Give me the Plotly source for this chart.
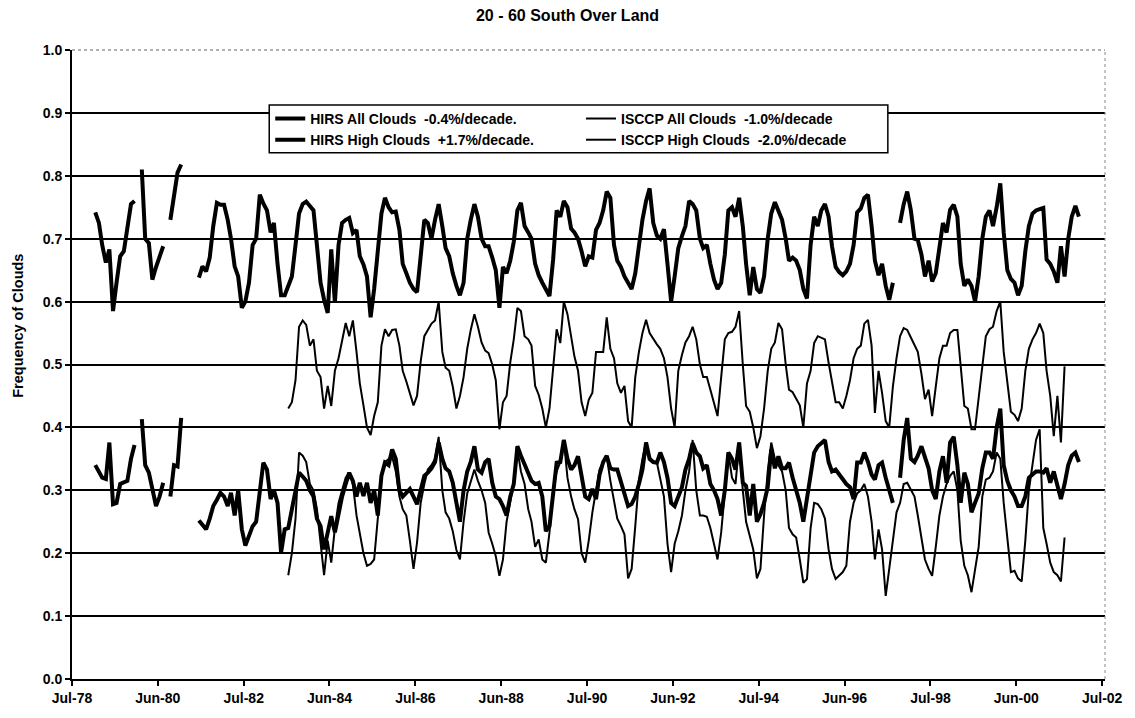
import pandas as pd
import plotly.graph_objects as go

# ---------------- DATA (monthly) ----------------
HIRS_START = "1979-01"
ISCCP_START = "1983-07"

hirs_all = [
    # 1979
    0.742, 0.725, 0.69, 0.662, 0.683, 0.585, 0.63, 0.672, 0.68, 0.72, 0.755, 0.76,
    # 1980
    None, 0.81, 0.70, 0.693, 0.635, 0.655, 0.67, 0.688, None, 0.73, 0.765, 0.805,
    # 1981
    0.818, None, None, None, None, 0.638, 0.656, 0.648, 0.67, 0.72, 0.757, 0.754,
    # 1982
    0.754, 0.73, 0.70, 0.656, 0.64, 0.59, 0.60, 0.63, 0.69, 0.70, 0.77, 0.756,
    # 1983
    0.745, 0.71, 0.725, 0.66, 0.61, 0.61, 0.625, 0.64, 0.69, 0.74, 0.755, 0.759,
    # 1984
    0.752, 0.745, 0.69, 0.63, 0.603, 0.582, 0.683, 0.598, 0.69, 0.725, 0.73, 0.733,
    # 1985
    0.709, 0.714, 0.672, 0.659, 0.64, 0.575, 0.62, 0.68, 0.74, 0.765, 0.75, 0.742,
    # 1986
    0.743, 0.714, 0.66, 0.645, 0.63, 0.62, 0.615, 0.672, 0.73, 0.725, 0.70, 0.73,
    # 1987
    0.755, 0.72, 0.685, 0.672, 0.645, 0.625, 0.61, 0.63, 0.70, 0.73, 0.755, 0.735,
    # 1988
    0.70, 0.688, 0.688, 0.67, 0.65, 0.59, 0.655, 0.645, 0.665, 0.695, 0.745, 0.757,
    # 1989
    0.72, 0.71, 0.70, 0.66, 0.642, 0.63, 0.62, 0.609, 0.667, 0.745, 0.735, 0.76,
    # 1990
    0.75, 0.716, 0.71, 0.70, 0.68, 0.656, 0.672, 0.67, 0.714, 0.725, 0.745, 0.775,
    # 1991
    0.765, 0.69, 0.665, 0.655, 0.64, 0.63, 0.62, 0.645, 0.695, 0.73, 0.76, 0.78,
    # 1992
    0.725, 0.705, 0.70, 0.715, 0.66, 0.60, 0.64, 0.685, 0.704, 0.72, 0.76, 0.755,
    # 1993
    0.745, 0.70, 0.685, 0.69, 0.66, 0.635, 0.62, 0.63, 0.675, 0.745, 0.75, 0.735,
    # 1994
    0.765, 0.72, 0.66, 0.61, 0.655, 0.62, 0.614, 0.64, 0.70, 0.74, 0.758, 0.742,
    # 1995
    0.73, 0.70, 0.665, 0.67, 0.665, 0.65, 0.62, 0.605, 0.69, 0.735, 0.72, 0.745,
    # 1996
    0.755, 0.735, 0.688, 0.655, 0.647, 0.642, 0.648, 0.66, 0.69, 0.742, 0.748, 0.765,
    # 1997
    0.77, 0.72, 0.665, 0.642, 0.66, 0.625, 0.603, 0.63, None, 0.725, 0.755, 0.775,
    # 1998
    0.745, 0.70, 0.698, 0.675, 0.64, 0.665, 0.632, 0.645, 0.69, 0.725, 0.71, 0.746,
    # 1999
    0.754, 0.735, 0.66, 0.625, 0.635, 0.625, 0.60, 0.64, 0.70, 0.735, 0.745, 0.72,
    # 2000
    0.75, 0.788, 0.71, 0.65, 0.636, 0.63, 0.61, 0.625, 0.68, 0.72, 0.74, 0.745,
    # 2001
    0.747, 0.749, 0.667, 0.66, 0.648, 0.63, 0.688, 0.64, 0.70, 0.735, 0.752, 0.735,
]

hirs_high = [
    # 1979
    0.34, 0.33, 0.32, 0.318, 0.376, 0.278, 0.28, 0.31, 0.312, 0.315, 0.35, 0.372,
    # 1980
    None, 0.413, 0.34, 0.328, 0.30, 0.275, 0.29, 0.312, None, 0.29, 0.34, 0.338,
    # 1981
    0.415, None, None, None, None, 0.252, 0.245, 0.238, 0.255, 0.275, 0.285, 0.296,
    # 1982
    0.29, 0.275, 0.296, 0.26, 0.30, 0.238, 0.212, 0.228, 0.243, 0.25, 0.296, 0.344,
    # 1983
    0.333, 0.286, 0.30, 0.28, 0.201, 0.238, 0.24, 0.27, 0.30, 0.328, 0.322, 0.315,
    # 1984
    0.30, 0.29, 0.255, 0.243, 0.206, 0.233, 0.259, 0.233, 0.265, 0.29, 0.31, 0.328,
    # 1985
    0.315, 0.29, 0.312, 0.291, 0.312, 0.28, 0.30, 0.26, 0.323, 0.344, 0.34, 0.365,
    # 1986
    0.35, 0.30, 0.29, 0.296, 0.302, 0.29, 0.278, 0.30, 0.323, 0.328, 0.335, 0.345,
    # 1987
    0.376, 0.35, 0.335, 0.33, 0.312, 0.28, 0.25, 0.30, 0.33, 0.345, 0.37, 0.333,
    # 1988
    0.328, 0.345, 0.35, 0.312, 0.29, 0.286, 0.275, 0.26, 0.29, 0.31, 0.37, 0.355,
    # 1989
    0.34, 0.325, 0.315, 0.31, 0.312, 0.29, 0.235, 0.243, 0.29, 0.344, 0.345, 0.38,
    # 1990
    0.35, 0.333, 0.34, 0.354, 0.323, 0.29, 0.286, 0.302, 0.286, 0.325, 0.345, 0.355,
    # 1991
    0.335, 0.333, 0.333, 0.312, 0.29, 0.275, 0.278, 0.29, 0.31, 0.333, 0.376, 0.35,
    # 1992
    0.345, 0.344, 0.36, 0.345, 0.32, 0.28, 0.275, 0.29, 0.305, 0.333, 0.35, 0.375,
    # 1993
    0.36, 0.354, 0.335, 0.34, 0.31, 0.30, 0.286, 0.26, 0.30, 0.36, 0.35, 0.333,
    # 1994
    0.376, 0.312, 0.307, 0.26, 0.31, 0.25, 0.262, 0.28, 0.305, 0.365, 0.335, 0.354,
    # 1995
    0.335, 0.335, 0.344, 0.32, 0.30, 0.28, 0.25, 0.29, 0.33, 0.36, 0.37, 0.375,
    # 1996
    0.38, 0.345, 0.33, 0.333, 0.325, 0.318, 0.31, 0.305, 0.286, 0.344, 0.344, 0.36,
    # 1997
    0.345, 0.325, 0.317, 0.34, 0.344, 0.32, 0.30, 0.28, None, 0.32, 0.38, 0.415,
    # 1998
    0.35, 0.345, 0.355, 0.37, 0.35, 0.335, 0.30, 0.286, 0.33, 0.354, 0.312, 0.376,
    # 1999
    0.385, 0.34, 0.28, 0.328, 0.31, 0.265, 0.28, 0.295, 0.335, 0.36, 0.36, 0.35,
    # 2000
    0.40, 0.43, 0.34, 0.315, 0.30, 0.29, 0.275, 0.275, 0.29, 0.32, 0.325, 0.33,
    # 2001
    0.33, 0.328, 0.335, 0.312, 0.33, 0.305, 0.286, 0.31, 0.34, 0.355, 0.36, 0.345,
]

isccp_all = [
    # 1983 (Jul-Dec)
    0.43, 0.44, 0.475, 0.56, 0.57, 0.563,
    # 1984
    0.53, 0.54, 0.49, 0.48, 0.43, 0.466, 0.434, 0.49, 0.51, 0.535, 0.566, 0.545,
    # 1985
    0.57, 0.52, 0.47, 0.435, 0.40, 0.388, 0.418, 0.44, 0.53, 0.556, 0.545, 0.555,
    # 1986
    0.556, 0.53, 0.49, 0.473, 0.455, 0.435, 0.45, 0.505, 0.545, 0.555, 0.565, 0.57,
    # 1987
    0.60, 0.52, 0.495, 0.49, 0.465, 0.43, 0.45, 0.48, 0.525, 0.555, 0.58, 0.56,
    # 1988
    0.535, 0.522, 0.518, 0.50, 0.475, 0.397, 0.44, 0.45, 0.503, 0.54, 0.59, 0.585,
    # 1989
    0.545, 0.54, 0.53, 0.466, 0.452, 0.43, 0.40, 0.43, 0.50, 0.556, 0.534, 0.60,
    # 1990
    0.58, 0.545, 0.513, 0.49, 0.44, 0.418, 0.444, 0.455, 0.52, 0.52, 0.52, 0.575,
    # 1991
    0.525, 0.51, 0.47, 0.455, 0.466, 0.41, 0.40, 0.48, 0.52, 0.55, 0.571, 0.55,
    # 1992
    0.54, 0.532, 0.525, 0.51, 0.48, 0.43, 0.40, 0.49, 0.515, 0.535, 0.545, 0.56,
    # 1993
    0.54, 0.50, 0.48, 0.48, 0.46, 0.44, 0.418, 0.48, 0.54, 0.55, 0.552, 0.56,
    # 1994
    0.585, 0.50, 0.434, 0.425, 0.40, 0.367, 0.386, 0.43, 0.49, 0.525, 0.535, 0.566,
    # 1995
    0.556, 0.50, 0.46, 0.456, 0.445, 0.435, 0.40, 0.47, 0.49, 0.534, 0.545, 0.543,
    # 1996
    0.54, 0.503, 0.471, 0.44, 0.44, 0.43, 0.45, 0.475, 0.51, 0.525, 0.53, 0.565,
    # 1997
    0.571, 0.53, 0.423, 0.49, 0.455, 0.41, 0.40, 0.465, 0.51, 0.545, 0.558, 0.555,
    # 1998
    0.543, 0.532, 0.52, 0.485, 0.445, 0.46, 0.418, 0.465, 0.51, 0.53, 0.53, 0.55,
    # 1999
    0.555, 0.555, 0.50, 0.434, 0.43, 0.397, 0.397, 0.445, 0.50, 0.545, 0.556, 0.56,
    # 2000
    0.585, 0.60, 0.52, 0.47, 0.425, 0.42, 0.41, 0.43, 0.49, 0.525, 0.54, 0.55,
    # 2001 (Jan-Aug)
    0.565, 0.55, 0.49, 0.45, 0.386, 0.45, 0.376, 0.497,
]

isccp_high = [
    # 1983 (Jul-Dec)
    0.165, 0.20, 0.255, 0.36, 0.355, 0.345,
    # 1984
    0.31, 0.30, 0.27, 0.22, 0.165, 0.22, 0.185, 0.24, 0.28, 0.30, 0.32, 0.328,
    # 1985
    0.31, 0.26, 0.233, 0.20, 0.18, 0.183, 0.19, 0.26, 0.32, 0.345, 0.35, 0.354,
    # 1986
    0.33, 0.29, 0.27, 0.26, 0.22, 0.175, 0.217, 0.28, 0.31, 0.333, 0.34, 0.35,
    # 1987
    0.385, 0.30, 0.265, 0.255, 0.235, 0.205, 0.19, 0.25, 0.295, 0.315, 0.333, 0.315,
    # 1988
    0.30, 0.28, 0.233, 0.215, 0.195, 0.164, 0.19, 0.25, 0.28, 0.312, 0.365, 0.33,
    # 1989
    0.31, 0.27, 0.25, 0.21, 0.222, 0.19, 0.185, 0.233, 0.30, 0.33, 0.345, 0.38,
    # 1990
    0.32, 0.29, 0.27, 0.254, 0.20, 0.185, 0.22, 0.265, 0.30, 0.333, 0.345, 0.354,
    # 1991
    0.315, 0.28, 0.255, 0.243, 0.23, 0.16, 0.175, 0.243, 0.317, 0.35, 0.376, 0.35,
    # 1992
    0.345, 0.344, 0.32, 0.29, 0.215, 0.17, 0.215, 0.235, 0.26, 0.30, 0.33, 0.38,
    # 1993
    0.30, 0.26, 0.26, 0.258, 0.24, 0.215, 0.19, 0.233, 0.30, 0.36, 0.32, 0.31,
    # 1994
    0.376, 0.30, 0.25, 0.225, 0.206, 0.16, 0.175, 0.26, 0.33, 0.376, 0.35, 0.34,
    # 1995
    0.33, 0.30, 0.24, 0.23, 0.225, 0.19, 0.153, 0.159, 0.24, 0.28, 0.278, 0.27,
    # 1996
    0.255, 0.206, 0.175, 0.159, 0.164, 0.17, 0.18, 0.25, 0.28, 0.295, 0.30, 0.31,
    # 1997
    0.29, 0.25, 0.19, 0.238, 0.206, 0.132, 0.175, 0.225, 0.265, 0.28, 0.31, 0.312,
    # 1998
    0.30, 0.29, 0.26, 0.225, 0.19, 0.175, 0.164, 0.21, 0.26, 0.29, 0.31, 0.323,
    # 1999
    0.33, 0.30, 0.22, 0.18, 0.165, 0.138, 0.17, 0.21, 0.29, 0.317, 0.32, 0.33,
    # 2000
    0.36, 0.35, 0.28, 0.22, 0.17, 0.172, 0.16, 0.155, 0.22, 0.30, 0.34, 0.38,
    # 2001 (Jan-Aug)
    0.397, 0.24, 0.215, 0.185, 0.17, 0.165, 0.155, 0.225,
]

tick_dates = ["1978-07-01", "1980-06-30", "1982-07-01", "1984-06-30", "1986-07-01",
              "1988-06-30", "1990-07-01", "1992-06-30", "1994-07-01", "1996-06-30",
              "1998-07-01", "2000-06-30", "2002-07-01"]
tick_labels = ["Jul-78", "Jun-80", "Jul-82", "Jun-84", "Jul-86", "Jun-88", "Jul-90",
               "Jun-92", "Jul-94", "Jun-96", "Jul-98", "Jun-00", "Jul-02"]

names = {
    "hirs_all": "<b>HIRS All Clouds\u00a0\u00a0-0.4%/decade.</b>",
    "hirs_high": "<b>HIRS High Clouds\u00a0\u00a0+1.7%/decade.</b>",
    "isccp_all": "<b>ISCCP All Clouds\u00a0\u00a0-1.0%/decade</b>",
    "isccp_high": "<b>ISCCP High Clouds\u00a0\u00a0-2.0%/decade</b>",
}


def month_dates(start, n):
    return pd.date_range(start=start + "-01", periods=n, freq="MS") + pd.Timedelta(days=14)


FONT = "Liberation Sans, Arial, sans-serif"
BOLD14 = dict(family=FONT, size=14, color="black", weight="bold")

fig = go.Figure()
fig.add_trace(go.Scatter(x=month_dates(HIRS_START, len(hirs_all)), y=hirs_all,
                         mode="lines", name=names["hirs_all"],
                         line=dict(color="black", width=4), legend="legend"))
fig.add_trace(go.Scatter(x=month_dates(HIRS_START, len(hirs_high)), y=hirs_high,
                         mode="lines", name=names["hirs_high"],
                         line=dict(color="black", width=4), legend="legend"))
fig.add_trace(go.Scatter(x=month_dates(ISCCP_START, len(isccp_all)), y=isccp_all,
                         mode="lines", name=names["isccp_all"],
                         line=dict(color="black", width=2), legend="legend2"))
fig.add_trace(go.Scatter(x=month_dates(ISCCP_START, len(isccp_high)), y=isccp_high,
                         mode="lines", name=names["isccp_high"],
                         line=dict(color="black", width=2), legend="legend2"))

W, H = 1135, 718
L, R, T, B = 72, 26, 50, 38
pw, ph = W - L - R, H - T - B


def px(xp):
    return (xp - L) / pw


def py(yp):
    return (H - B - yp) / ph


legend_common = dict(
    font=BOLD14, bgcolor="rgba(0,0,0,0)", borderwidth=0, orientation="v",
    xanchor="left", yanchor="top", itemclick=False, itemdoubleclick=False,
    tracegroupgap=0,
)

fig.update_layout(
    width=W, height=H,
    margin=dict(l=L, r=R, t=T, b=B),
    paper_bgcolor="white", plot_bgcolor="white",
    font=BOLD14,
    title=dict(text="<b>20 - 60 South Over Land</b>", x=0.5, xref="container", xanchor="center",
               y=1 - 15 / H, yref="container", yanchor="middle",
               font=dict(family=FONT, size=16, color="black")),
    legend=dict(x=px(271), y=py(103), **legend_common),
    legend2=dict(x=px(583), y=py(103), **legend_common),
    showlegend=True,
    xaxis=dict(type="date", range=["1978-07-01", "2002-07-25"],
               tickvals=tick_dates, ticktext=["<b>%s</b>" % t for t in tick_labels],
               tickangle=0, showgrid=False, zeroline=False,
               showline=True, linecolor="black", linewidth=2,
               ticks="outside", ticklen=5, tickwidth=2, tickcolor="black",
               tickfont=BOLD14),
    yaxis=dict(range=[0, 1], tickvals=[i / 10 for i in range(11)], tickformat=".1f",
               showgrid=True, gridcolor="black", gridwidth=1.5, zeroline=False,
               showline=True, linecolor="black", linewidth=2,
               ticks="outside", ticklen=5, tickwidth=2, tickcolor="black",
               tickfont=BOLD14),
    annotations=[
        dict(text="<b>Frequency of Clouds</b>", xref="paper", yref="paper",
             x=px(17), y=py(326), xanchor="center", yanchor="middle",
             textangle=-90, showarrow=False,
             font=dict(family=FONT, size=14.5, color="black")),
    ],
    shapes=[
        # legend frame (opaque, covers the gridline behind it)
        dict(type="rect", xref="paper", yref="paper", x0=px(270), x1=px(891),
             y0=py(153), y1=py(105), fillcolor="white",
             line=dict(color="black", width=1.5), layer="above"),
        # dotted top and right borders of the plot area
        dict(type="line", xref="paper", yref="paper", x0=0, x1=1, y0=1, y1=1,
             line=dict(color="white", width=3), layer="above"),
        dict(type="line", xref="paper", yref="paper", x0=0, x1=1, y0=1, y1=1,
             line=dict(color="#666666", width=1.2, dash="dot"), layer="above"),
        dict(type="line", xref="paper", yref="paper", x0=1, x1=1, y0=0, y1=1,
             line=dict(color="#888888", width=1, dash="dot"), layer="above"),
    ],
)

fig.write_html("out.html")
